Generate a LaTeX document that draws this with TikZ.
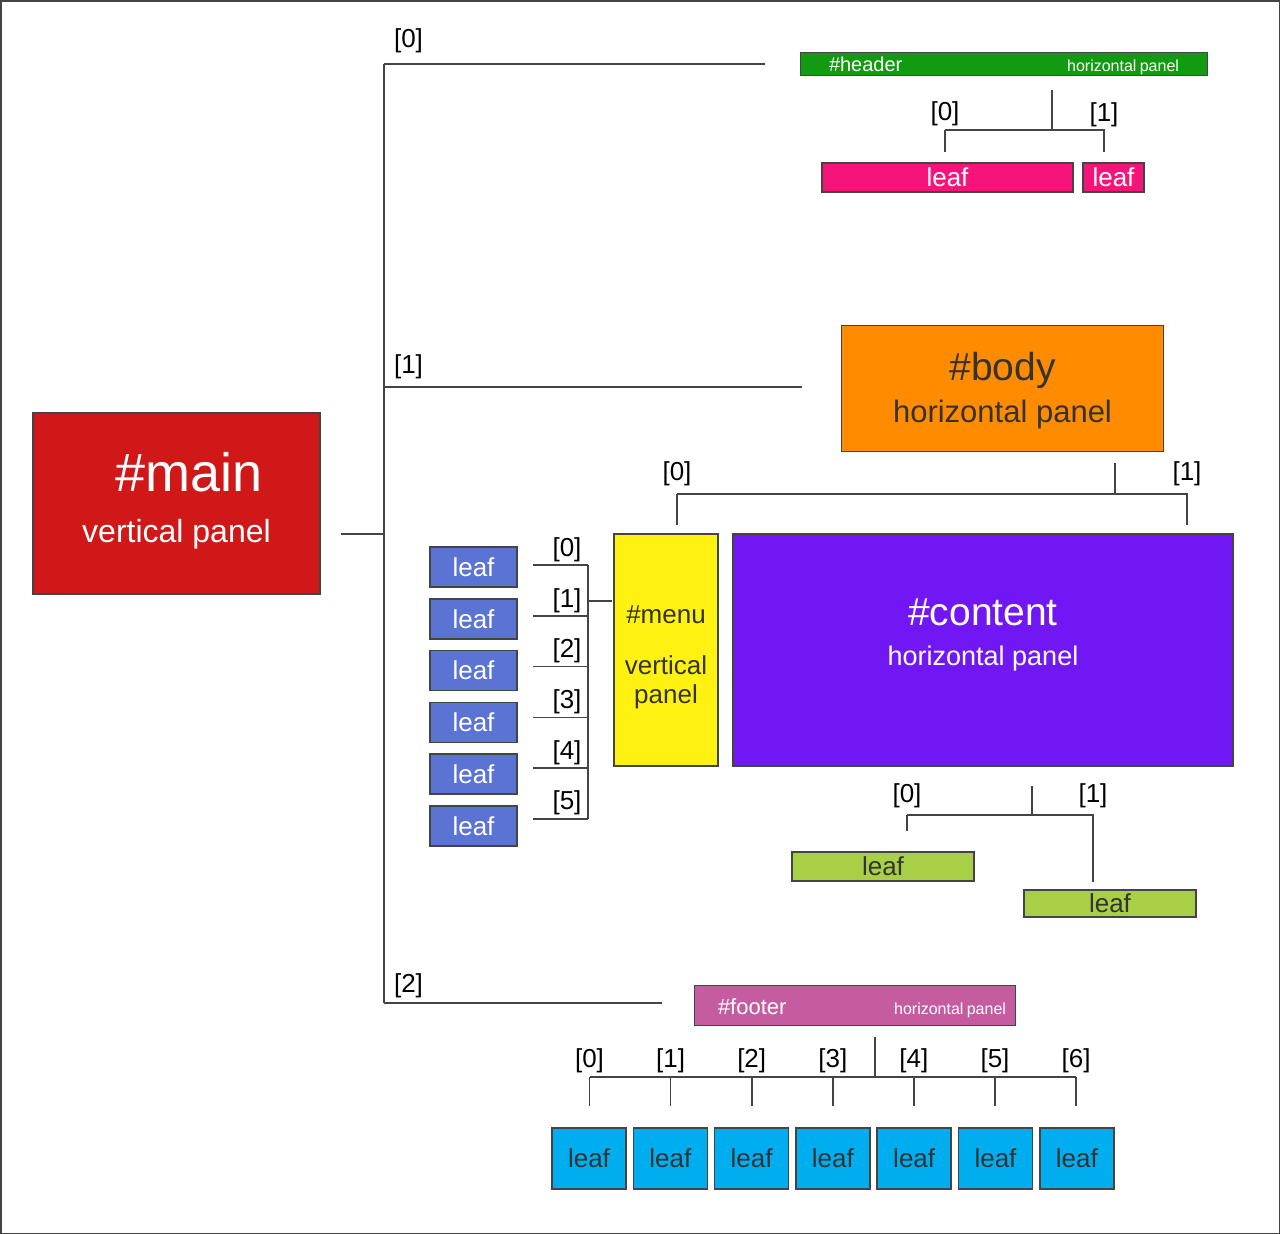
\documentclass[tikz,border=0pt]{standalone}
\usepackage{fontspec}
\setmainfont{Liberation Sans}
\usepackage{xcolor}

\definecolor{mainred}{HTML}{D01818}
\definecolor{headgreen}{HTML}{139A13}
\definecolor{leafpink}{HTML}{F5157A}
\definecolor{bodyorange}{HTML}{FF8C00}
\definecolor{menuyellow}{HTML}{FFF112}
\definecolor{contentviolet}{HTML}{7117F3}
\definecolor{leafblue}{HTML}{5B73D3}
\definecolor{leaflime}{HTML}{A8CF45}
\definecolor{footplum}{HTML}{C65CA0}
\definecolor{leafcyan}{HTML}{00AEEF}
\definecolor{edgegray}{HTML}{444444}
\definecolor{textdark}{HTML}{333333}

\newcommand{\fs}[2]{\fontsize{#1}{#2}\selectfont}

\tikzset{
	panel/.style={draw=edgegray, line width=1.6pt, inner sep=0pt, align=center},
	wire/.style={draw=edgegray, line width=1.6pt},
	idx/.style={inner sep=0pt, font=\fs{26}{26}},
	leaf/.style={panel, font=\fs{26}{26}}
}

\begin{document}
\begin{tikzpicture}[x=1pt,y=-1pt]
			\useasboundingbox (0,0) rectangle (1280,1234);
			\draw[edgegray, line width=1.5pt] (0.75,0.75) rectangle (1279.25,1233.25);

			\node[panel, fill=mainred, text=white, minimum width=287pt, minimum height=181pt, font=\fs{32}{51}, text depth=13pt] (main) at (176.5,503.5) {\hspace*{26pt}{\fs{54}{54}\#main}\\vertical panel};

			\coordinate (trunk) at (384,534);
			\coordinate (tbr0) at (384,64);
			\coordinate (tbr1) at (384,387);
			\coordinate (tbr2) at (384,1003);
			\draw[wire] (trunk) -- ++(-43,0);
			\draw[wire] (tbr0) -- (tbr2);
			\draw[wire] (tbr0) -- ++(381,0);
			\draw[wire] (tbr1) -- ++(418,0);
			\draw[wire] (tbr2) -- ++(278,0);
			\node[idx] (tidx0) at (408.5,41) {[0]};
			\node[idx] (tidx1) at (408.5,367) {[1]};
			\node[idx] (tidx2) at (408.5,986) {[2]};

			\node[panel, fill=headgreen, text=white, minimum width=407pt, minimum height=23pt, text width=350pt, align=left, text height=18pt] (hdr) at (1004,64) {\fs{20}{20}\#header\hfill\fs{16}{16}horizontal panel};
			\node[leaf, fill=leafpink, text=white, minimum width=251pt, minimum height=29pt] (hleafA) at (947.5,177.5) {leaf};
			\node[leaf, fill=leafpink, text=white, minimum width=61pt, minimum height=29pt] (hleafB) at (1113.5,177.5) {leaf};
			\node[idx] (hidx0) at (945,114) {[0]};
			\node[idx] (hidx1) at (1104,115) {[1]};
			\coordinate (hfork) at (1052,130);
			\draw[wire] (hfork) -- ++(0,-40);
			\draw[wire] (hidx0 |- hfork) -- ++(0,22) (hidx0 |- hfork) -- (hidx1 |- hfork) -- ++(0,22);

			\node[panel, fill=bodyorange, text=textdark, minimum width=322pt, minimum height=126pt, font=\fs{31}{42}, text depth=2.5pt] (body) at (1002.5,388.5) {{\fs{39}{39}\#body}\\horizontal panel};
			\node[idx] (bidx0) at (677,474) {[0]};
			\node[idx] (bidx1) at (1187,474) {[1]};
			\coordinate (bfork) at (1115,494);
			\draw[wire] (bfork) -- ++(0,-31);
			\draw[wire] (bidx0 |- bfork) -- ++(0,31) (bidx0 |- bfork) -- (bidx1 |- bfork) -- ++(0,31);

			\node[panel, fill=menuyellow, text=textdark, minimum width=104pt, minimum height=232pt, font=\fs{26}{29}, text height=106.5pt, text depth=0pt] (menu) at (666,650) {\#menu\\[22pt]vertical\\panel};
			\node[panel, fill=contentviolet, text=white, minimum width=500pt, minimum height=232pt, font=\fs{27}{39.5}, text depth=36pt] (content) at (983,650) {{\fs{39}{39}\#content}\\horizontal panel};

			\coordinate (mfork) at (588,601);
			\draw[wire] (mfork) -- ++(24,0);
			\foreach \i in {0,...,5} {
				\node[leaf, fill=leafblue, text=white, minimum width=87pt, minimum height=40pt] (mleaf\i) at (473.5,567+51.8*\i) {leaf};
				\node[idx] (midx\i) at (567,550+50.6*\i) {[\i]};
				\coordinate (mjoint\i) at (588,565+50.8*\i);
				\draw[wire] (mjoint\i) -- ++(-55,0);
			}
			\draw[wire] (mjoint0) -- (mjoint5);

			\node[leaf, fill=leaflime, text=textdark, minimum width=182pt, minimum height=29pt] (cleafA) at (883,866.5) {leaf};
			\node[leaf, fill=leaflime, text=textdark, minimum width=172pt, minimum height=27pt] (cleafB) at (1110,903.5) {leaf};
			\node[idx] (cidx0) at (907,795.5) {[0]};
			\node[idx] (cidx1) at (1093,795.5) {[1]};
			\coordinate (cfork) at (1032,815);
			\draw[wire] (cfork) -- ++(0,-29);
			\draw[wire] (cidx0 |- cfork) -- ++(0,16) (cidx0 |- cfork) -- (cidx1 |- cfork) -- ++(0,67);

			\node[panel, fill=footplum, text=white, minimum width=321pt, minimum height=40pt, text width=302pt, align=left, text height=22pt] (ftr) at (855,1005.5) {\hspace*{14pt}\fs{22}{22}\#footer\hfill\fs{16}{16}horizontal panel};
			\coordinate (ffork) at (875,1077);
			\draw[wire] (ffork) -- ++(0,-40);
			\foreach \i in {0,...,6} {
				\node[leaf, fill=leafcyan, text=textdark, minimum width=74pt, minimum height=61pt] (fleaf\i) at (589+81.3*\i,1158.5) {leaf};
				\node[idx] (fidx\i) at (589.5+81.1*\i,1060.5) {[\i]};
				\draw[wire] (fidx\i |- ffork) -- ++(0,29);
			}
			\draw[wire] (fidx0 |- ffork) -- (fidx6 |- ffork);
		\end{tikzpicture}
\end{document}
